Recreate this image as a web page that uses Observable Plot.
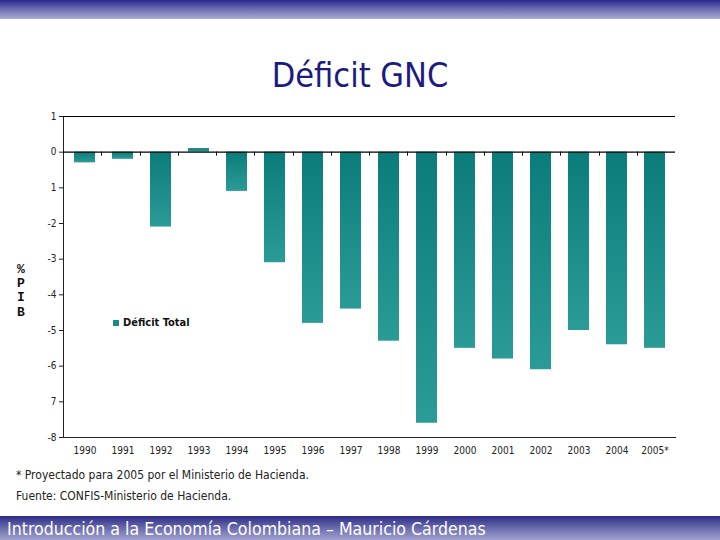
<!DOCTYPE html>
<html>
<head>
<meta charset="utf-8">
<script src="https://cdn.jsdelivr.net/npm/d3@7"></script>
<script src="https://cdn.jsdelivr.net/npm/@observablehq/plot@0.6"></script>
<style>
  html, body { margin: 0; padding: 0; background: #fff; }
  #page { position: relative; width: 720px; height: 540px; overflow: hidden; background: #fff;
          font-family: "DejaVu Sans Condensed", "DejaVu Sans", sans-serif; }
  #topbar { position: absolute; left: 0; top: 0; width: 720px; height: 19px;
            background: linear-gradient(to bottom, #2a2a8e 0%, #6f6fb4 50%, #acacd6 100%); }
  #botbar { position: absolute; left: 0; top: 516px; width: 720px; height: 24px;
            background: linear-gradient(to bottom, #2c2c88 0%, #6a6aae 50%, #a2a2d0 100%); }
  #footer { position: absolute; left: 7px; top: 519px; color: #fff; font-size: 17.6px; white-space: nowrap; }
  #title { position: absolute; left: 0; width: 720px; top: 55px; text-align: center;
           color: #1b1b82; font-size: 34px; }
  #chart { position: absolute; left: 0; top: 100px; }
  #ylabel { position: absolute; left: 17px; top: 263px; font-family: "Liberation Mono", "DejaVu Sans Mono", monospace;
            font-weight: bold; font-size: 13px; line-height: 14.2px; color: #111; }
  #legend { position: absolute; left: 113px; top: 316px; font-size: 11px; font-weight: bold; color: #111;
            font-family: "DejaVu Sans Condensed", "DejaVu Sans", sans-serif; display: flex; align-items: center; white-space: nowrap; }
  #legend .sw { width: 6px; height: 6px; background: #1a8a87; margin-right: 4px; }
  .note { position: absolute; left: 16px; font-size: 12px; color: #222; white-space: nowrap; }
</style>
</head>
<body>
<div id="page">
  <div id="topbar"></div>
  <div id="title">Déficit GNC</div>
  <div id="chart"></div>
  <div id="ylabel">%<br>P<br>I<br>B</div>
  <div id="legend"><span class="sw"></span>Déficit Total</div>
  <div class="note" style="top:468px">* Proyectado para 2005 por el Ministerio de Hacienda.</div>
  <div class="note" style="top:489px">Fuente: CONFIS-Ministerio de Hacienda.</div>
  <div id="botbar"></div>
  <div id="footer">Introducción a la Economía Colombiana – Mauricio Cárdenas</div>
</div>
<script>
// Data
const years = ["1990","1991","1992","1993","1994","1995","1996","1997","1998","1999","2000","2001","2002","2003","2004","2005*"];
const deficit = [-0.3, -0.2, -2.1, 0.1, -1.1, -3.1, -4.8, -4.4, -5.3, -7.6, -5.5, -5.8, -6.1, -5.0, -5.4, -5.5];
const yTicks = [1, 0, -1, -2, -3, -4, -5, -6, -7, -8];
const yTickLabels = ["1", "0", "1", "-2", "-3", "-4", "-5", "-6", "7", "-8"];
const seriesName = "Déficit Total";

const data = years.map((y, i) => ({year: y, value: deficit[i]}));

function gradientDefs() {
  const g = d3.create("svg:g");
  const lg = g.append("defs").append("linearGradient")
    .attr("id", "barGrad").attr("x1", 0).attr("y1", 0).attr("x2", 0).attr("y2", 1);
  lg.append("stop").attr("offset", "0%").attr("stop-color", "#0b7c79");
  lg.append("stop").attr("offset", "100%").attr("stop-color", "#2a9b97");
  return g.node();
}

function boundaryTicks(index, scales, values, dimensions) {
  const {width, marginLeft, marginRight} = dimensions;
  const step = (width - marginLeft - marginRight) / years.length;
  const y0 = scales.y(0);
  const g = d3.create("svg:g").attr("stroke", "#000").attr("stroke-width", 1);
  for (let i = 1; i < years.length; i++) {
    const x = Math.round(marginLeft + i * step) + 0.5;
    g.append("line").attr("x1", x).attr("x2", x).attr("y1", y0).attr("y2", y0 + 4);
  }
  return g.node();
}

const chart = Plot.plot({
  width: 720,
  height: 365,
  marginLeft: 63,
  marginRight: 45,
  marginTop: 16,
  marginBottom: 28,
  style: {fontFamily: '"DejaVu Sans Condensed", "DejaVu Sans", sans-serif', fontSize: "10px", color: "#222", background: "transparent"},
  x: {domain: years, paddingInner: 0.45, paddingOuter: 0.225, label: null, tickSize: 0, tickPadding: 9, line: true},
  y: {domain: [-8, 1], ticks: yTicks, tickFormat: d => yTickLabels[yTicks.indexOf(d)], label: null, tickSize: 4, tickPadding: 3, line: true},
  marks: [
    gradientDefs,
    Plot.barY(data, {x: "year", y: "value", fill: "url(#barGrad)", title: d => `${seriesName} ${d.year}: ${d.value}`}),
    Plot.ruleY([1, 0], {stroke: "#000", strokeWidth: 1.2}),
    boundaryTicks
  ]
});
document.getElementById("chart").appendChild(chart);
</script>
</body>
</html>
